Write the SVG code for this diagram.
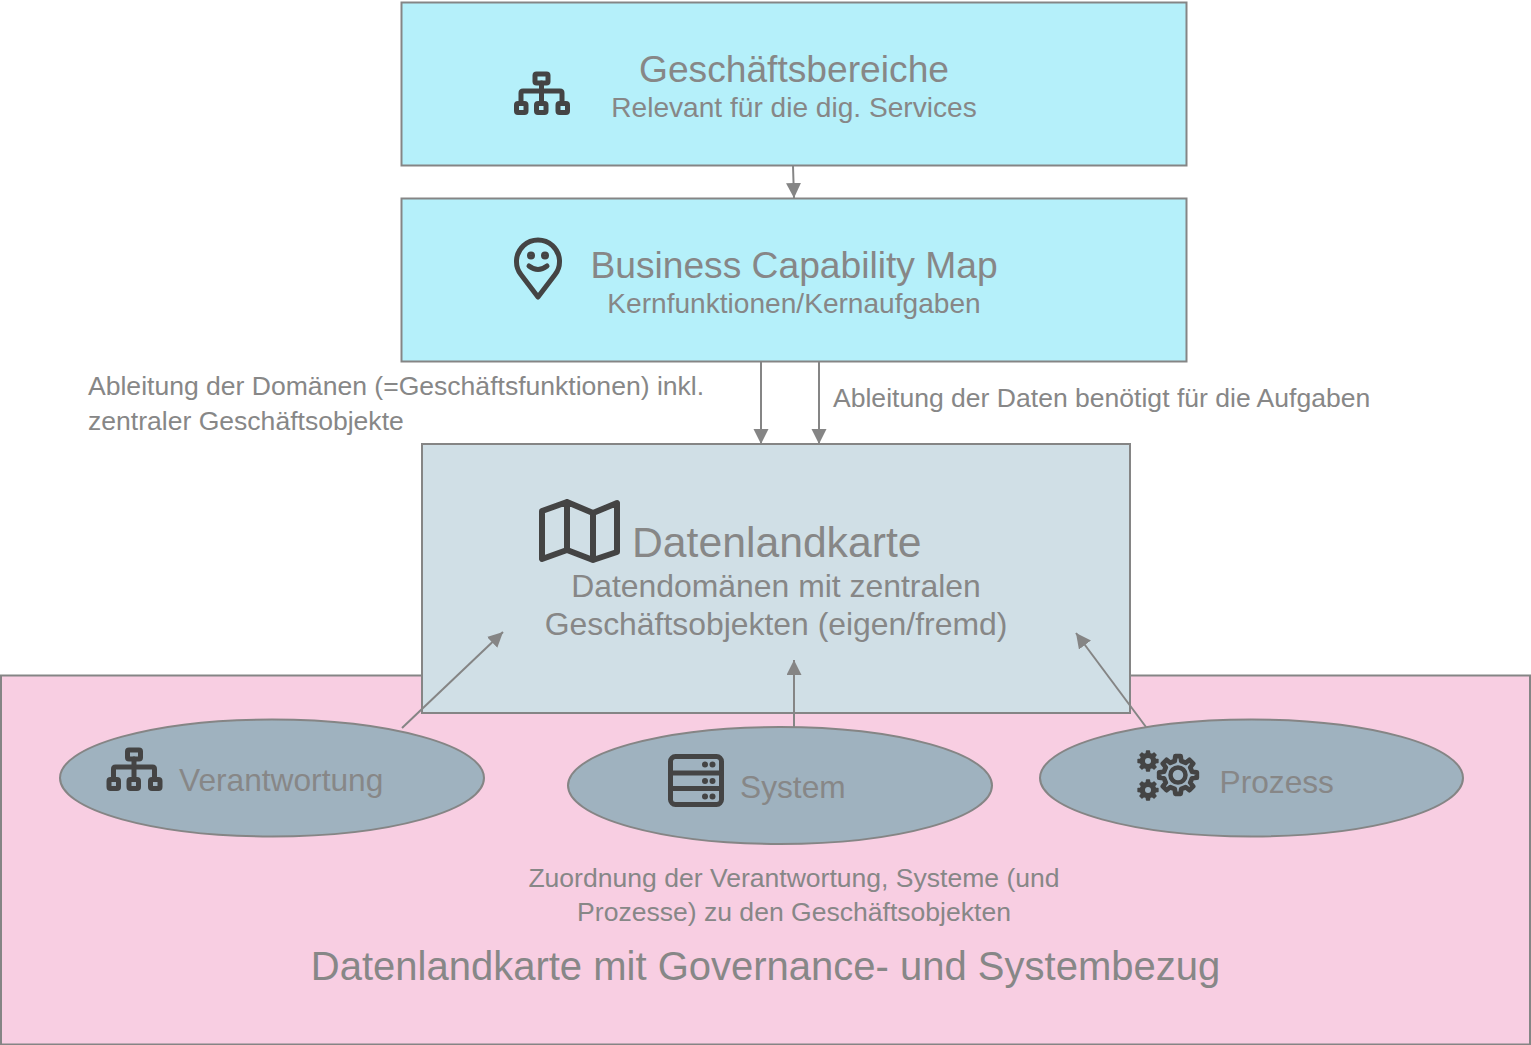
<svg xmlns="http://www.w3.org/2000/svg" width="1531" height="1045" viewBox="0 0 1531 1045">
<style>
text{font-family:"Liberation Sans",Arial,sans-serif;fill:#878787}
.m{text-anchor:middle}
.b{stroke:#858585;stroke-width:2}
.ic{fill:none;stroke:#444;stroke-width:5;stroke-linejoin:round;stroke-linecap:round}
.c{fill:none;stroke:#858585;stroke-width:2;marker-end:url(#a)}
.t1{font-size:37.2px}
.t2{font-size:28.1px}
.t3{font-size:31.9px}
.t4{font-size:26.55px}
.t5{font-size:31.7px}
</style>
<defs>
<marker id="a" markerUnits="userSpaceOnUse" markerWidth="16" markerHeight="16" refX="15" refY="7.5" orient="auto"><path d="M0 0L15 7.500L0 15Z" fill="#858585"/></marker>
<g id="org"><rect x="-6.500" y="-17" width="13" height="9" rx="1.500"/><path d="M0 -8V10M-20.500 10V2Q-20.500 0 -18.500 0H18.500Q20.500 0 20.500 2V10"/><rect x="-25" y="12.500" width="9.500" height="9" rx="1.500"/><rect x="-5" y="12.500" width="9.500" height="9" rx="1.500"/><rect x="16.500" y="12.500" width="9.500" height="9" rx="1.500"/></g>
<path id="gear" d="M-1.710 -7.400L-1.390 -9.900L1.390 -9.900L1.710 -7.400L4.030 -6.440L6.020 -7.990L7.990 -6.020L6.440 -4.030L7.400 -1.710L9.900 -1.390L9.900 1.390L7.400 1.710L6.440 4.030L7.990 6.020L6.020 7.990L4.030 6.440L1.710 7.400L1.390 9.900L-1.390 9.900L-1.710 7.400L-4.030 6.440L-6.020 7.990L-7.990 6.020L-6.440 4.030L-7.400 1.710L-9.900 1.390L-9.900 -1.390L-7.400 -1.710L-6.440 -4.030L-7.990 -6.020L-6.020 -7.990L-4.030 -6.440Z"/>
</defs>
<g id="node-pink"><rect class="b" x="1" y="675.500" width="1529" height="369" fill="#f8cee2"/>
<text class="m" x="765.500" y="980" font-size="40">Datenlandkarte mit Governance- und Systembezug</text>
<text class="m t4" x="794" y="887">Zuordnung der Verantwortung, Systeme (und</text>
<text class="m t4" x="794" y="921">Prozesse) zu den Geschäftsobjekten</text></g>
<g id="node-geschaeft"><rect class="b" x="401.500" y="2.500" width="785" height="163" fill="#b5f0fa"/>
<text class="m t1" x="794" y="82">Geschäftsbereiche</text>
<text class="m t2" x="794" y="117">Relevant für die dig. Services</text>
<use href="#org" class="ic" x="541.500" y="91"/></g>
<g id="node-capability"><rect class="b" x="401.500" y="198.500" width="785" height="163" fill="#b5f0fa"/>
<text class="m t1" x="794" y="278">Business Capability Map</text>
<text class="m t2" x="794" y="313">Kernfunktionen/Kernaufgaben</text>
<g class="ic" style="stroke-width:5"><path d="M538 297L520.900 274.500A21.500 21.500 0 1 1 555.100 274.500Z"/><path d="M529 266Q538 273 547 266"/><circle cx="531" cy="255.500" r="1.500" fill="#444"/><circle cx="545" cy="255.500" r="1.500" fill="#444"/></g></g>
<g id="node-datenlandkarte"><rect class="b" x="422" y="444" width="708" height="269" fill="#d0dfe6"/>
<text x="632" y="557" font-size="42.700">Datenlandkarte</text>
<text class="m t3" x="776" y="597">Datendomänen mit zentralen</text>
<text class="m t3" x="776" y="635">Geschäftsobjekten (eigen/fremd)</text>
<path class="ic" style="stroke-width:6" d="M542 559V511L567 502L593 513L617 503V552L593 560L567 550ZM567 502V550M593 513V560"/></g>
<g id="node-verantwortung"><ellipse class="b" cx="272" cy="778" rx="212" ry="58.500" fill="#9fb2bf"/>
<text class="t5" x="179" y="791">Verantwortung</text>
<use href="#org" class="ic" x="134" y="767"/></g>
<g id="node-system"><ellipse class="b" cx="780" cy="785.500" rx="212" ry="58.500" fill="#9fb2bf"/>
<text class="t5" x="740" y="798">System</text>
<g class="ic" style="stroke-width:5"><rect x="670.500" y="756.500" width="51" height="48" rx="5"/><path d="M670.500 773H721.500M670.500 788.500H721.500"/><g fill="#444" style="stroke:none"><circle cx="705" cy="764.500" r="3"/><circle cx="712.500" cy="764.500" r="3"/><circle cx="705" cy="781" r="3"/><circle cx="712.500" cy="781" r="3"/><circle cx="705" cy="796.500" r="3"/><circle cx="712.500" cy="796.500" r="3"/></g></g></g>
<g id="node-prozess"><ellipse class="b" cx="1251.500" cy="778" rx="211.500" ry="58.500" fill="#9fb2bf"/>
<text class="t5" x="1219.500" y="793">Prozess</text>
<use href="#gear" transform="translate(1178 775) scale(1.900)" style="fill:none;stroke:#444;stroke-width:2.500px;stroke-linejoin:round"/>
<circle cx="1178" cy="775" r="7.500" style="fill:none;stroke:#444;stroke-width:4.500px"/>
<use href="#gear" transform="translate(1148 761)" style="fill:#444;stroke:#444;stroke-width:1.500px;stroke-linejoin:round"/>
<circle cx="1148" cy="761" r="3" fill="#9fb2bf"/>
<use href="#gear" transform="translate(1148 790)" style="fill:#444;stroke:#444;stroke-width:1.500px;stroke-linejoin:round"/>
<circle cx="1148" cy="790" r="3" fill="#9fb2bf"/></g>
<g id="connectors">
<path class="c" d="M793 166L794 198"/>
<path class="c" d="M761 362V444"/>
<path class="c" d="M819 362V444"/>
<path class="c" d="M402 728L503 632"/>
<path class="c" d="M794 727V660"/>
<path class="c" d="M1146 727L1076 633"/>
</g>
<text class="t4" x="88" y="395">Ableitung der Domänen (=Geschäftsfunktionen) inkl.</text>
<text class="t4" x="88" y="430">zentraler Geschäftsobjekte</text>
<text class="t4" x="833" y="407">Ableitung der Daten benötigt für die Aufgaben</text>
</svg>
